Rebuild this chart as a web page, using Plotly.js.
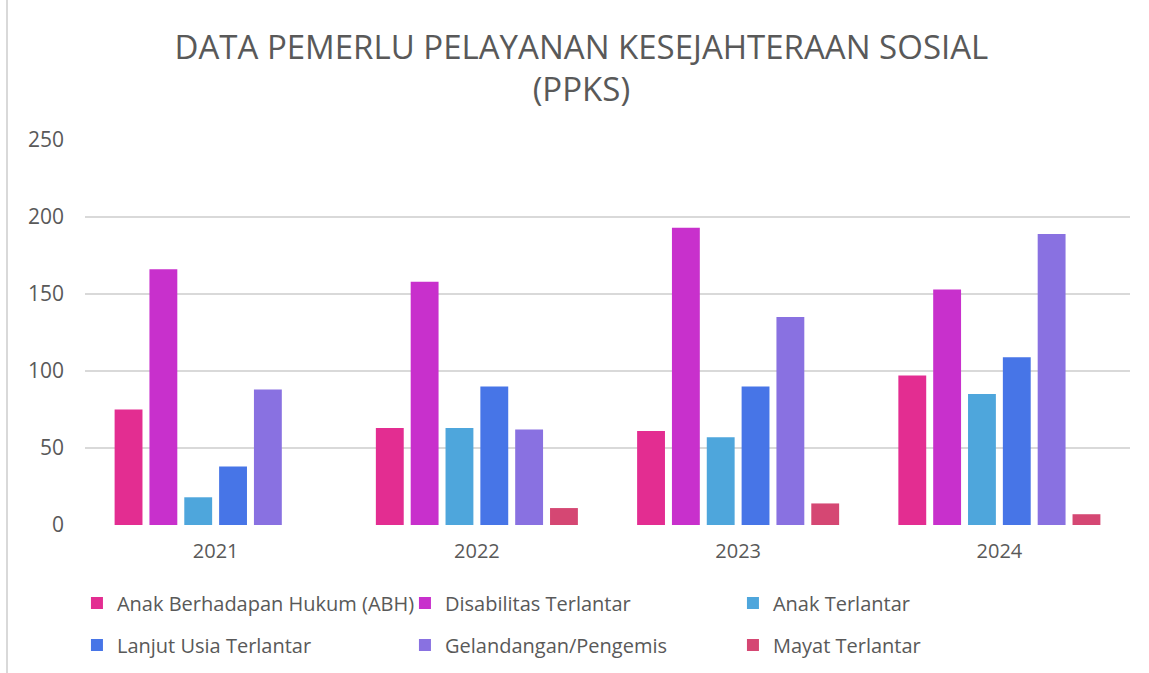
<!DOCTYPE html>
<html>
<head>
<meta charset="utf-8">
<script src="https://cdn.plot.ly/plotly-3.0.1.min.js"></script>
<style>
  html, body { margin: 0; padding: 0; background: #ffffff; }
  #chart { width: 1149px; height: 673px; position: relative; }
  #frame { position: absolute; left: 6px; top: 0; width: 0; height: 673px; border-left: 2px solid #d9d9d9; pointer-events: none; }
</style>
</head>
<body>
<div id="chart"></div>
<div id="frame"></div>
<script>
const years = ["2021", "2022", "2023", "2024"];
const seriesNames = [
  "Anak Berhadapan Hukum (ABH)",
  "Disabilitas Terlantar",
  "Anak Terlantar",
  "Lanjut Usia Terlantar",
  "Gelandangan/Pengemis",
  "Mayat Terlantar"
];
const abh = [75, 63, 61, 97];
const disabilitas = [166, 158, 193, 153];
const anakTerlantar = [18, 63, 57, 85];
const lanjutUsia = [38, 90, 90, 109];
const gelandangan = [88, 62, 135, 189];
const mayat = [0, 11, 14, 7];
const seriesValues = [abh, disabilitas, anakTerlantar, lanjutUsia, gelandangan, mayat];
const colors = ["#E32D91", "#C830CC", "#4EA6DC", "#4775E7", "#8971E1", "#D54773"];
const legendFor = ["legend", "legend", "legend", "legend2", "legend2", "legend2"];

const FONT = "Open Sans, Noto Sans, sans-serif";
const TXT = "#595959";

const traces = seriesNames.map((name, i) => ({
  type: "bar",
  name: name,
  x: years,
  y: seriesValues[i],
  marker: { color: colors[i], line: { width: 0 } },
  legend: legendFor[i],
  hoverinfo: "x+y+name"
}));

const legendCommon = {
  orientation: "h",
  xanchor: "left",
  yanchor: "middle",
  x: -0.0077,
  entrywidth: 283,
  entrywidthmode: "pixels",
  font: { family: FONT, size: 20, color: TXT },
  bgcolor: "rgba(0,0,0,0)",
  traceorder: "normal"
};

const layout = {
  width: 1149,
  height: 673,
  paper_bgcolor: "#ffffff",
  plot_bgcolor: "#ffffff",
  margin: { l: 85, r: 19, t: 140, b: 148, autoexpand: false },
  font: { family: FONT, color: TXT },
  title: {
    text: "DATA PEMERLU PELAYANAN KESEJAHTERAAN SOSIAL<br>(PPKS)",
    font: { family: FONT, size: 33, color: TXT },
    x: 0.506,
    xanchor: "center",
    y: 0.913,
    yanchor: "middle",
    xref: "container",
    yref: "container"
  },
  barmode: "group",
  bargap: 0.2,
  bargroupgap: 0.2,
  xaxis: {
    type: "category",
    showgrid: false,
    showline: false,
    zeroline: false,
    ticks: "",
    tickfont: { family: FONT, size: 20, color: TXT },
    ticklabelstandoff: 12
  },
  yaxis: {
    range: [0, 250],
    dtick: 50,
    tick0: 0,
    showgrid: true,
    gridcolor: "#d9d9d9",
    gridwidth: 1.5,
    zeroline: false,
    showline: false,
    ticks: "",
    tickfont: { family: FONT, size: 21, color: TXT },
    ticklabelstandoff: 20
  },
  legend: Object.assign({}, legendCommon, { y: -0.2026 }),
  legend2: Object.assign({}, legendCommon, { y: -0.3117 }),
  showlegend: true
};

Plotly.newPlot("chart", traces, layout, { displayModeBar: false, responsive: false });
</script>
</body>
</html>
